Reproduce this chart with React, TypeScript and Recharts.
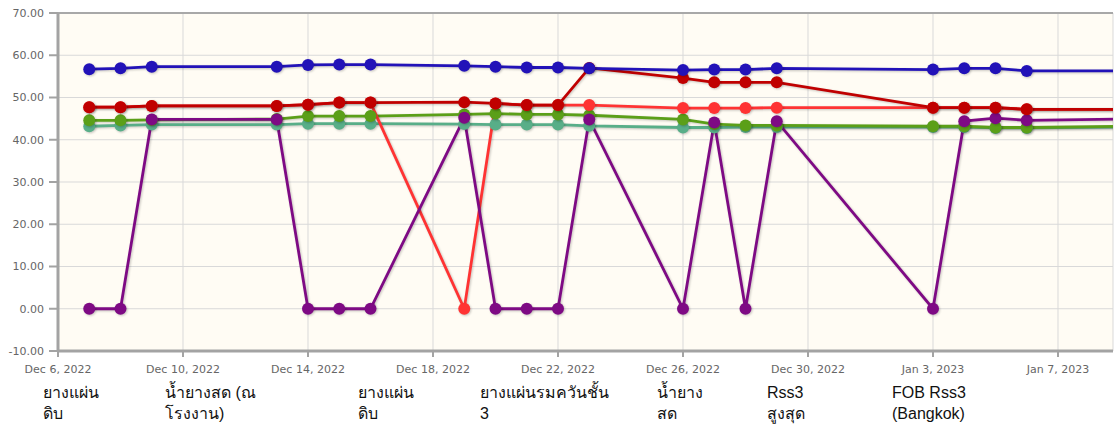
import { LineChart, Line, XAxis, YAxis, CartesianGrid, ReferenceLine } from 'recharts';

// trading days shown on the chart (last one sits just past the right edge)
const dates = [
  '2022-12-07', '2022-12-08', '2022-12-09', '2022-12-13', '2022-12-14', '2022-12-15', '2022-12-16',
  '2022-12-19', '2022-12-20', '2022-12-21', '2022-12-22', '2022-12-23', '2022-12-26', '2022-12-27',
  '2022-12-28', '2022-12-29', '2023-01-03', '2023-01-04', '2023-01-05', '2023-01-06', '2023-01-09'
];

const fobRss3 = [56.7, 56.9, 57.3, 57.3, 57.7, 57.8, 57.8, 57.5, 57.3, 57.1, 57.1, 56.9, 56.5, 56.6, 56.6, 56.9, 56.6, 56.9, 56.9, 56.3, 56.3];
const rss3Max = [47.7, 47.7, 48.0, 48.0, 48.3, 48.8, 48.8, 48.9, 48.6, 48.2, 48.2, 57.0, 54.6, 53.6, 53.6, 53.6, 47.6, 47.6, 47.6, 47.2, 47.2];
const rss3 = [47.7, 47.7, 48.0, 48.0, 48.3, 48.8, 48.8, 0, 48.6, 48.2, 48.2, 48.2, 47.5, 47.5, 47.5, 47.6, 47.6, 47.6, 47.6, 47.2, 47.2];
const rawSheetA = [44.6, 44.6, 44.7, 44.9, 45.6, 45.6, 45.6, 46.0, 46.2, 46.0, 46.0, 45.8, 44.8, 43.7, 43.4, 43.4, 43.2, 43.2, 42.9, 42.9, 43.2];
const rawSheetB = [43.2, 43.4, 43.6, 43.6, 43.8, 43.8, 43.8, 43.7, 43.6, 43.6, 43.6, 43.3, 42.9, 42.9, 43.0, 43.0, 43.0, 43.0, 42.8, 42.8, 43.0];
const latex = [0, 0, 44.8, 44.8, 0, 0, 0, 45.2, 0, 0, 0, 44.8, 0, 44.1, 0, 44.4, 0, 44.4, 45.1, 44.6, 44.9];

const xTicks = ['2022-12-06', '2022-12-10', '2022-12-14', '2022-12-18', '2022-12-22', '2022-12-26', '2022-12-30', '2023-01-03', '2023-01-07'];
const yTicks = [-10, 0, 10, 20, 30, 40, 50, 60, 70];

const legendLabels = [
  ['ยางแผ่น', 'ดิบ'],
  ['น้ำยางสด (ณ', 'โรงงาน)'],
  ['ยางแผ่น', 'ดิบ'],
  ['ยางแผ่นรมควันชั้น', '3'],
  ['น้ำยาง', 'สด'],
  ['Rss3', 'สูงสุด'],
  ['FOB Rss3', '(Bangkok)'],
];
const legendLeft = [43, 165, 358, 480, 657, 767, 892];

const months = ['Jan', 'Feb', 'Mar', 'Apr', 'May', 'Jun', 'Jul', 'Aug', 'Sep', 'Oct', 'Nov', 'Dec'];
const toTs = (s: string) => Date.parse(s + 'T00:00:00Z');
const fmtDate = (t: number) => {
  const d = new Date(t);
  return `${months[d.getUTCMonth()]} ${d.getUTCDate()}, ${d.getUTCFullYear()}`;
};

const data = dates.map((d, i) => ({
  t: toTs(d),
  fobRss3: fobRss3[i],
  rss3Max: rss3Max[i],
  rss3: rss3[i],
  rawSheetA: rawSheetA[i],
  rawSheetB: rawSheetB[i],
  latex: latex[i],
}));

const DAY = 86400000;
const xDomain = [toTs('2022-12-06'), toTs('2023-01-07') + 1.76 * DAY];

// drawn bottom to top
const series = [
  { key: 'rawSheetB', color: '#58ae88' },
  { key: 'rawSheetA', color: '#5b9f18' },
  { key: 'rss3', color: '#ff3333' },
  { key: 'latex', color: '#7e0a84' },
  { key: 'rss3Max', color: '#c00000' },
  { key: 'fobRss3', color: '#2212b8' },
];

const tickStyle = { fill: '#666', fontSize: 11, fontFamily: 'DejaVu Sans' };

// jqplot-ish soft shadow under lines and dots
const shadowCss = `
.recharts-line-curve, .recharts-line-dots { filter: drop-shadow(1px 1.5px 1px rgba(0,0,0,0.22)); }
`;

function LegendRow() {
  return (
    <div style={{ position: 'absolute', left: 0, top: 382, width: 1120, height: 46 }}>
      {legendLabels.map((lines, i) => (
        <div
          key={i}
          style={{
            position: 'absolute',
            left: legendLeft[i],
            top: 0,
            fontFamily: '"Liberation Sans", Tahoma, sans-serif',
            fontSize: 16,
            color: '#111',
            whiteSpace: 'nowrap',
          }}
        >
          {lines.map((l, j) => (
            <div key={j} style={{ height: 21, lineHeight: '21px' }}>{l}</div>
          ))}
        </div>
      ))}
    </div>
  );
}

export default function App() {
  return (
    <div style={{ position: 'absolute', left: 0, top: 0, width: 1120, height: 428, overflow: 'hidden', background: '#fff' }}>
      <style>{shadowCss}</style>
      <LineChart width={1120} height={428} data={data} margin={{ top: 13, right: 7, bottom: 47, left: 0 }}>
        <CartesianGrid stroke="#d9d9d9" fill="#fffcf4" />
        <XAxis
          dataKey="t"
          type="number"
          domain={xDomain}
          allowDataOverflow
          ticks={xTicks.map(toTs)}
          tickFormatter={fmtDate}
          height={30}
          tickSize={6}
          tickMargin={8}
          tick={tickStyle}
          stroke="#a3a3a3"
          axisLine={{ stroke: '#a3a3a3', strokeWidth: 3 }}
          tickLine={{ stroke: '#a3a3a3', strokeWidth: 2 }}
        />
        <YAxis
          type="number"
          domain={[-10, 70]}
          ticks={yTicks}
          tickFormatter={(v: number) => v.toFixed(2)}
          width={58}
          tickSize={9}
          tickMargin={5}
          tick={tickStyle}
          axisLine={{ stroke: '#a3a3a3', strokeWidth: 3 }}
          tickLine={{ stroke: '#a3a3a3', strokeWidth: 2 }}
        />
        <ReferenceLine y={70} stroke="#a8a8a8" strokeWidth={2} />
        {series.map(s => (
          <Line
            key={s.key}
            dataKey={s.key}
            type="linear"
            stroke={s.color}
            strokeWidth={2.8}
            dot={{ r: 6, fill: s.color, stroke: s.color, strokeWidth: 0 }}
            activeDot={false}
            isAnimationActive={false}
          />
        ))}
      </LineChart>
      <LegendRow />
    </div>
  );
}
